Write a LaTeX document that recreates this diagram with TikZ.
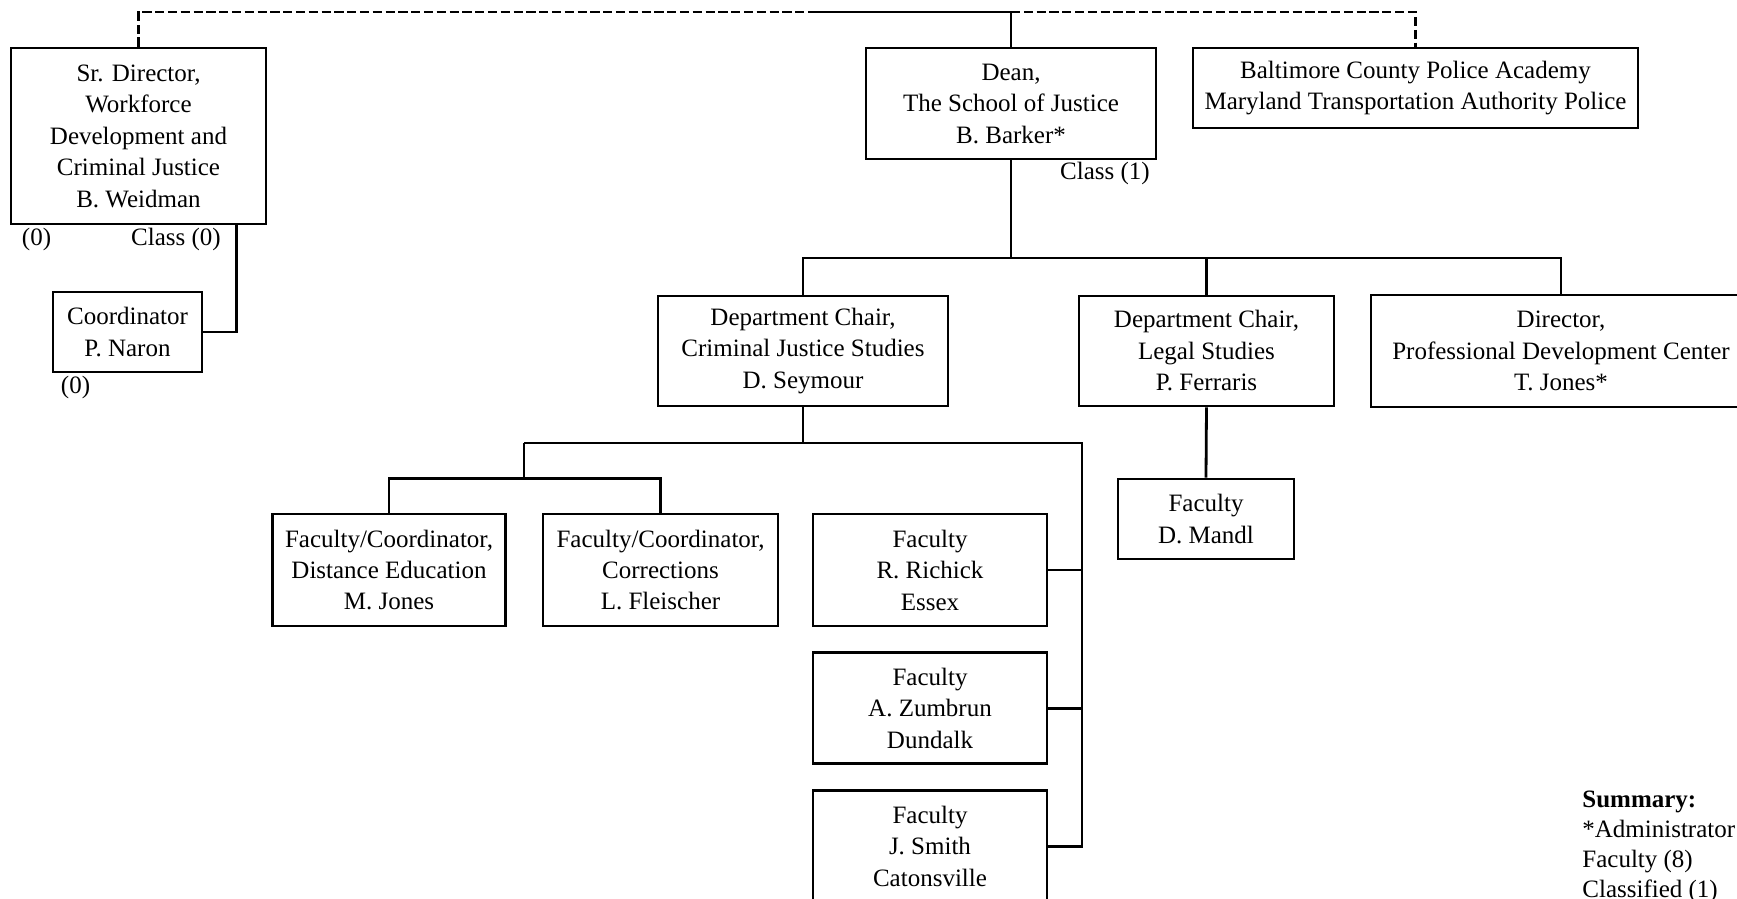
\documentclass[tikz,border=0pt]{standalone}
\usepackage{fontspec}
\setmainfont{Liberation Serif}
\usepackage{tikz}
\usetikzlibrary{positioning}

\begin{document}
\begin{tikzpicture}[x=0.5pt, y=-0.5pt,
    font=\fontsize{12.5}{15.75}\selectfont,
    box/.style={draw, line width=1.4pt, align=center, inner sep=0pt},
    link/.style={line width=1.4pt},
    dotlink/.style={line width=1.4pt, dash pattern=on 4.6pt off 1.8pt},
    count/.style={inner sep=0pt}]
\clip (0,0) rectangle (1737,899);

% Top row
\node[box, minimum width=127.5pt, minimum height=88pt] (wd) at (138.5,136)
    {Sr. Director,\\Workforce\\Development and\\Criminal Justice\\B. Weidman};
\node[box, minimum width=74.5pt, minimum height=40pt] (coord) at (127.5,332)
    {Coordinator\\P. Naron};
\node[box, minimum width=145pt, minimum height=55.5pt] (dean) at (1011,103.5)
    {Dean,\\The School of Justice\\B. Barker*};
\node[box, minimum width=222.5pt, minimum height=40pt] (balt) at (1415.5,88)
    {Baltimore County Police Academy\\Maryland Transportation Authority Police};

% Chairs
\node[box, minimum width=145pt, minimum height=55pt] (cj) at (803,351)
    {Department Chair,\\Criminal Justice Studies\\D. Seymour};
\node[box, minimum width=127.5pt, minimum height=55pt] (legal) at (1206.5,351)
    {Department Chair,\\Legal Studies\\P. Ferraris};
\node[box, minimum width=190pt, minimum height=56pt] (pdc) at (1561,351)
    {Director,\\Professional Development Center\\T. Jones*};
\node[box, minimum width=88pt, minimum height=40pt] (mandl) at (1206,519)
    {Faculty\\D. Mandl};

% Faculty
\node[box, minimum width=116.75pt, minimum height=56pt] (mjones) at (389,570)
    {Faculty/Coordinator,\\Distance Education\\M. Jones};
\node[box, minimum width=117.5pt, minimum height=56pt] (fleis) at (660.5,570)
    {Faculty/Coordinator,\\Corrections\\L. Fleischer};
\node[box, minimum width=117pt, minimum height=56pt] (richick) at (930,570)
    {Faculty\\R. Richick\\Essex};
\node[box, minimum width=117pt, minimum height=55.5pt, below=12pt of richick] (zumbrun)
    {Faculty\\A. Zumbrun\\Dundalk};
\node[box, minimum width=117pt, minimum height=55.5pt, below=12pt of zumbrun] (smith)
    {Faculty\\J. Smith\\Catonsville};

% Counts
\node[count] (wdfac) at (36.5,239) {(0)};
\node[count] (wdcls) at (176,239) {Class (0)};
\node[count] (coordfac) at (75.5,387) {(0)};
\node[count] (deancls) at (1105,173.5) {Class (1)};

\node[count, anchor=north west, align=left, font=\fontsize{12.5}{15}\selectfont]
    (summary) at (1582,790.5)
    {\textbf{Summary:}\\{*}Administrator\\Faculty (8)\\Classified (1)};

% Reporting lines
\coordinate (solidstart) at (813,12);
\draw[dotlink] (wd.north) |- (solidstart);
\draw[link] (solidstart) -- (dean.north |- solidstart) -- (dean.north);
\draw[dotlink] (dean.north |- solidstart) -| (balt.north);
\draw[link] ([xshift=-15.5pt]wd.south east) |- (coord.east);

\coordinate (bar2) at (0,258);
\draw[link] (dean.south) -- (dean.south |- bar2);
\draw[link] (cj.north) |- (pdc.north |- bar2) -- (pdc.north);
\draw[link] (legal.north) -- (legal.north |- bar2);
\draw[link] (legal.south) -- (mandl.north);

\coordinate (bar3) at (524,443);
\coordinate (trunk) at (1082,443);
\coordinate (bar4) at (0,478.5);
\draw[link] (cj.south) -- (cj.south |- bar3);
\draw[link] (bar3) -- (trunk) |- (smith.east);
\draw[link] (richick.east) -- (richick.east -| trunk);
\draw[link] (zumbrun.east) -- (zumbrun.east -| trunk);
\draw[link] (bar3) -- (bar3 |- bar4);
\draw[link] (mjones.north) |- (fleis.north |- bar4) -- (fleis.north);
\end{tikzpicture}
\end{document}
